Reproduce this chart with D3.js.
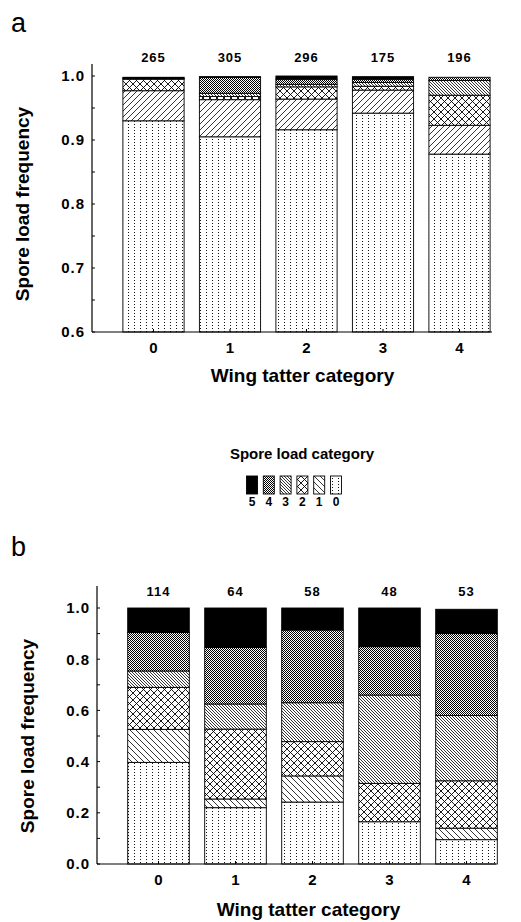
<!DOCTYPE html>
<html>
<head>
<meta charset="utf-8">
<script src="https://cdn.jsdelivr.net/npm/d3@7"></script>
<style>
  body { margin: 0; background: #fff; }
  text { font-family: "Liberation Sans", Arial, sans-serif; fill: #000; }
</style>
</head>
<body>
<div id="chart"></div>
<script>
const tatterCategories = ["0", "1", "2", "3", "4"];
const sporeCategories = [0, 1, 2, 3, 4, 5];
const legendOrder = [5, 4, 3, 2, 1, 0];

const countsA = [265, 305, 296, 175, 196];
const countsB = [114, 64, 58, 48, 53];

// rows = spore load category 0..5, columns = wing tatter category 0..4
const freqA = [
  [0.930, 0.905, 0.916, 0.942, 0.878],
  [0.047, 0.058, 0.048, 0.036, 0.045],
  [0.018, 0.005, 0.019, 0.006, 0.047],
  [0.001, 0.005, 0.004, 0.006, 0.023],
  [0.001, 0.025, 0.008, 0.005, 0.005],
  [0.001, 0.001, 0.005, 0.004, 0.000],
];
const freqB = [
  [0.397, 0.220, 0.242, 0.165, 0.095],
  [0.129, 0.034, 0.102, 0.000, 0.045],
  [0.164, 0.273, 0.134, 0.150, 0.185],
  [0.064, 0.098, 0.152, 0.345, 0.255],
  [0.150, 0.221, 0.284, 0.189, 0.320],
  [0.096, 0.154, 0.086, 0.151, 0.095],
];

const yTicksA = [0.6, 0.7, 0.8, 0.9, 1.0];
const yMinorA = [0.65, 0.75, 0.85, 0.95];
const yTicksB = [0.0, 0.2, 0.4, 0.6, 0.8, 1.0];
const yMinorB = [0.1, 0.3, 0.5, 0.7, 0.9];

const width = 521;
const height = 922;

const svg = d3
  .select("#chart")
  .append("svg")
  .attr("width", width)
  .attr("height", height);

svg.append("rect").attr("width", width).attr("height", height).attr("fill", "#fff");

// fill patterns
const defs = svg.append("defs");

const addPattern = (id, size, draw) => {
  const p = defs
    .append("pattern")
    .attr("id", id)
    .attr("patternUnits", "userSpaceOnUse")
    .attr("width", size[0])
    .attr("height", size[1]);
  p.append("rect").attr("width", size[0]).attr("height", size[1]).attr("fill", "#fff");
  draw(p);
};

addPattern("p-dots", [6, 3], (p) =>
  p.append("rect").attr("x", 2).attr("y", 1).attr("width", 1).attr("height", 1).attr("fill", "#111")
);
addPattern("p-fwd", [6, 6], (p) =>
  p.append("path").attr("d", "M0,6L6,0M-1,1L1,-1M5,7L7,5").attr("stroke", "#000").attr("stroke-width", 0.8)
);
addPattern("p-back", [6, 6], (p) =>
  p.append("path").attr("d", "M0,0L6,6M-1,5L1,7M5,-1L7,1").attr("stroke", "#000").attr("stroke-width", 0.8)
);
addPattern("p-cross", [7, 7], (p) =>
  p
    .append("path")
    .attr("d", "M0,0L7,7M-1,6L1,8M6,-1L8,1M0,7L7,0M-1,1L1,-1M6,8L8,6")
    .attr("stroke", "#000")
    .attr("stroke-width", 0.9)
);
addPattern("p-fine", [3, 3], (p) =>
  p.append("path").attr("d", "M0,0L3,3M-1,2L1,4M2,-1L4,1").attr("stroke", "#000").attr("stroke-width", 0.8)
);
addPattern("p-check", [2, 2], (p) => {
  p.append("rect").attr("x", 0).attr("y", 0).attr("width", 1).attr("height", 1).attr("fill", "#000");
  p.append("rect").attr("x", 1).attr("y", 1).attr("width", 1).attr("height", 1).attr("fill", "#000");
});

const fillsA = ["url(#p-dots)", "url(#p-fwd)", "url(#p-cross)", "url(#p-fine)", "url(#p-check)", "#000"];
const fillsB = ["url(#p-dots)", "url(#p-back)", "url(#p-cross)", "url(#p-fine)", "url(#p-check)", "#000"];

const keys = sporeCategories.map((c) => `s${c}`);

const drawPanel = (cfg) => {
  const rows = tatterCategories.map((t, i) => {
    const row = { tatter: t };
    sporeCategories.forEach((c) => (row[`s${c}`] = cfg.freq[c][i]));
    return row;
  });
  const series = d3.stack().keys(keys)(rows);

  const xScale = d3
    .scaleBand()
    .domain(tatterCategories)
    .range(cfg.xRange)
    .paddingInner(0.2)
    .paddingOuter(0.1);

  const yScale = d3
    .scaleLinear()
    .domain(cfg.yDomain)
    .range(cfg.yRange)
    .clamp(true);

  const g = svg.append("g");

  g.selectAll(".layer")
    .data(series)
    .join("g")
    .attr("class", "layer")
    .attr("fill", (d, i) => cfg.fills[i])
    .selectAll("rect")
    .data((d) => d)
    .join("rect")
    .attr("x", (d) => xScale(d.data.tatter))
    .attr("width", xScale.bandwidth())
    .attr("y", (d) => yScale(d[1]))
    .attr("height", (d) => Math.max(0, yScale(d[0]) - yScale(d[1])))
    .attr("stroke", "#000")
    .attr("stroke-width", 0.9);

  // counts above bars
  g.selectAll(".count")
    .data(cfg.counts)
    .join("text")
    .attr("class", "count")
    .attr("x", (d, i) => xScale(tatterCategories[i]) + xScale.bandwidth() / 2)
    .attr("y", cfg.countY)
    .attr("text-anchor", "middle")
    .style("font-size", "13px")
    .style("font-weight", "bold")
    .style("letter-spacing", "1px")
    .text((d) => d);

  // y axis
  const yTop = yScale(cfg.yTicks[cfg.yTicks.length - 1]) - cfg.axisOver;
  g.append("line")
    .attr("x1", cfg.axisX)
    .attr("x2", cfg.axisX)
    .attr("y1", yScale(cfg.yDomain[0]))
    .attr("y2", yTop)
    .attr("stroke", "#000")
    .attr("stroke-width", 1.2);

  g.selectAll(".ytick")
    .data(cfg.yTicks.concat(cfg.yMinor))
    .join("line")
    .attr("x1", cfg.axisX)
    .attr("x2", cfg.axisX + 3)
    .attr("y1", (d) => yScale(d))
    .attr("y2", (d) => yScale(d))
    .attr("stroke", "#000");

  g.selectAll(".ylabel")
    .data(cfg.yTicks)
    .join("text")
    .attr("x", cfg.axisX - 7)
    .attr("y", (d) => yScale(d))
    .attr("dy", "0.36em")
    .attr("text-anchor", "end")
    .style("font-size", "15px")
    .style("font-weight", "bold")
    .style("letter-spacing", "1px")
    .text((d) => d3.format(".1f")(d));

  // x axis
  const xBase = yScale(cfg.yDomain[0]);
  g.append("line")
    .attr("x1", cfg.axisX)
    .attr("x2", cfg.xAxisEnd)
    .attr("y1", xBase)
    .attr("y2", xBase)
    .attr("stroke", "#000")
    .attr("stroke-width", 1.2);

  g.selectAll(".xtick")
    .data(tatterCategories)
    .join("line")
    .attr("x1", (d) => xScale(d) + xScale.bandwidth() / 2)
    .attr("x2", (d) => xScale(d) + xScale.bandwidth() / 2)
    .attr("y1", xBase)
    .attr("y2", xBase - 3)
    .attr("stroke", "#000");

  g.selectAll(".xlabel")
    .data(tatterCategories)
    .join("text")
    .attr("x", (d) => xScale(d) + xScale.bandwidth() / 2)
    .attr("y", cfg.xLabelY)
    .attr("text-anchor", "middle")
    .style("font-size", "15px")
    .style("font-weight", "bold")
    .text((d) => d);

  g.append("text")
    .attr("x", (cfg.xRange[0] + cfg.xRange[1]) / 2 - 4)
    .attr("y", cfg.xTitleY)
    .attr("text-anchor", "middle")
    .style("font-size", "19px")
    .style("font-weight", "bold")
    .text("Wing tatter category");

  g.append("text")
    .attr("transform", `translate(${cfg.yTitleX}, ${(cfg.yRange[0] + yScale(1)) / 2}) rotate(-90)`)
    .attr("text-anchor", "middle")
    .style("font-size", "19px")
    .style("font-weight", "bold")
    .text("Spore load frequency");

  g.append("text")
    .attr("x", cfg.letterX)
    .attr("y", cfg.letterY)
    .style("font-size", "27px")
    .text(cfg.letter);
};

drawPanel({
  freq: freqA,
  counts: countsA,
  fills: fillsA,
  xRange: [115.25, 497.75],
  yDomain: [0.6, 1.0],
  yRange: [332, 76],
  yTicks: yTicksA,
  yMinor: yMinorA,
  axisOver: 12,
  axisX: 92,
  xAxisEnd: 492,
  countY: 62,
  xLabelY: 353,
  xTitleY: 382,
  yTitleX: 29,
  letter: "a",
  letterX: 11,
  letterY: 32,
});

drawPanel({
  freq: freqB,
  counts: countsB,
  fills: fillsB,
  xRange: [120, 505],
  yDomain: [0, 1.0],
  yRange: [864, 608],
  yTicks: yTicksB,
  yMinor: yMinorB,
  axisOver: 22,
  axisX: 97,
  xAxisEnd: 496,
  countY: 596,
  xLabelY: 885,
  xTitleY: 916,
  yTitleX: 34,
  letter: "b",
  letterX: 11,
  letterY: 556,
});

// legend
const legendFills = ["url(#p-dots)", "url(#p-back)", "url(#p-cross)", "url(#p-fine)", "url(#p-check)", "#000"];
const legendX = d3.scalePoint().domain(legendOrder).range([252, 336]);

svg
  .append("text")
  .attr("x", 302)
  .attr("y", 459)
  .attr("text-anchor", "middle")
  .style("font-size", "15px")
  .style("font-weight", "bold")
  .text("Spore load category");

const legend = svg.append("g");
legend
  .selectAll("rect")
  .data(legendOrder)
  .join("rect")
  .attr("x", (d) => legendX(d) - 5.5)
  .attr("y", 476)
  .attr("width", 11)
  .attr("height", 18)
  .attr("fill", (d) => legendFills[d])
  .attr("stroke", "#000")
  .attr("stroke-width", 0.9);

legend
  .selectAll("text")
  .data(legendOrder)
  .join("text")
  .attr("x", (d) => legendX(d))
  .attr("y", 506)
  .attr("text-anchor", "middle")
  .style("font-size", "12px")
  .style("font-weight", "bold")
  .text((d) => d);
</script>
</body>
</html>
